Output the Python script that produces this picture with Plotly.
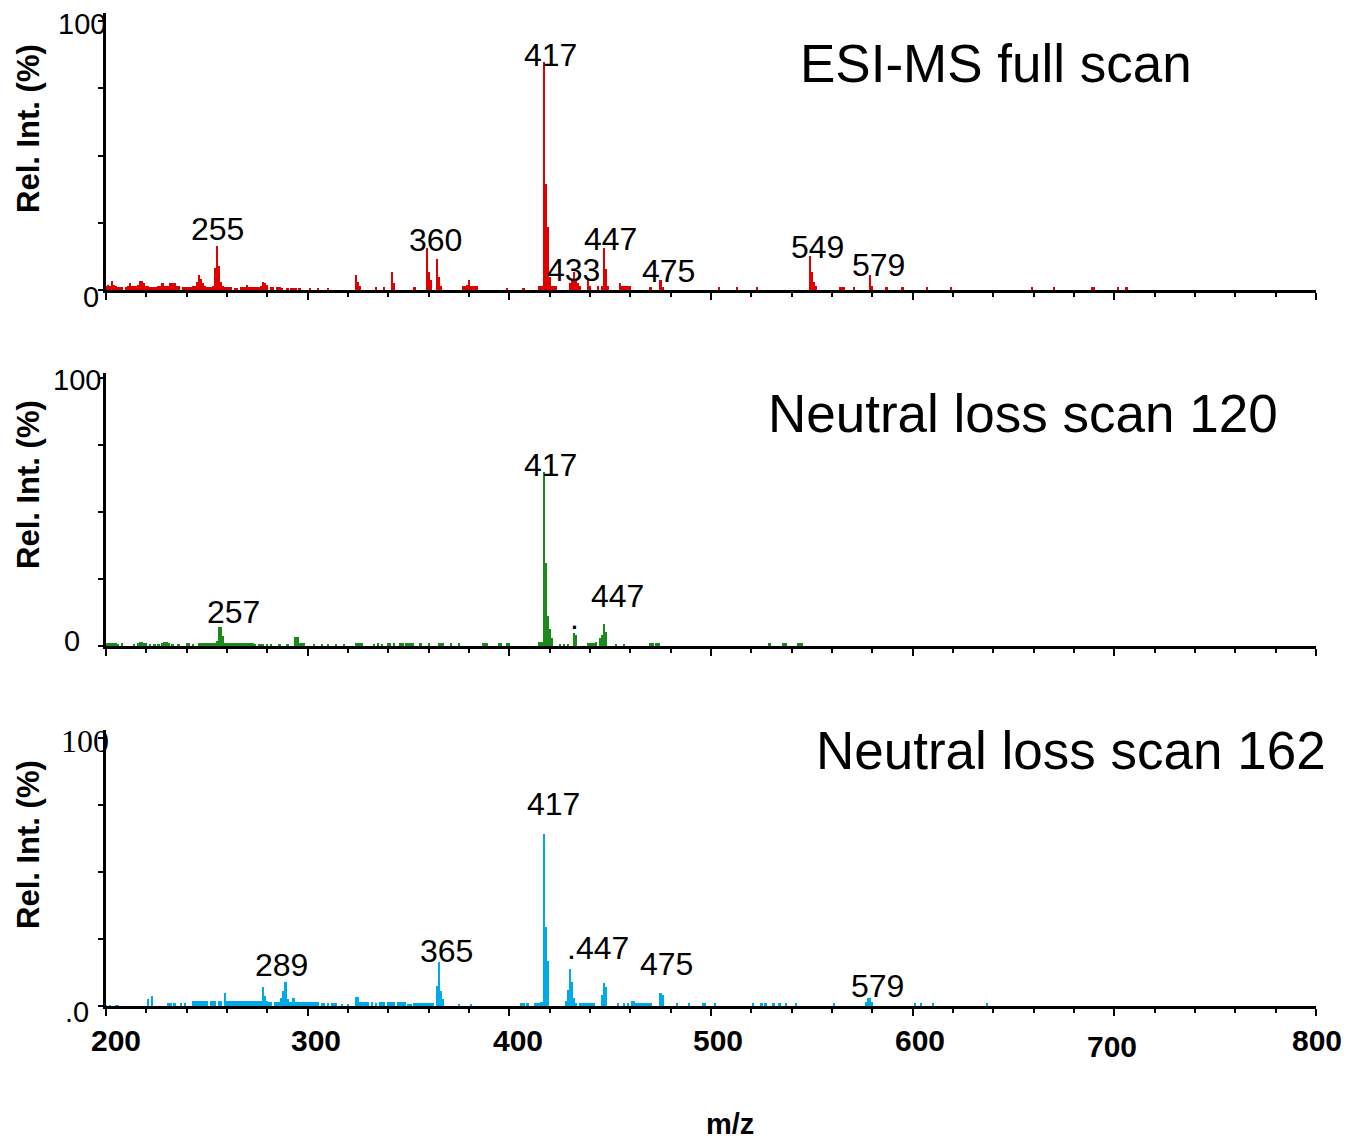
import plotly.graph_objects as go

# ---------------- data ----------------
full_mz = [200, 201, 202, 203, 204, 205, 206, 207, 208, 210, 211, 212, 213, 214, 215, 216, 217, 218, 219, 220,
           221, 222, 223, 224, 225, 226, 227, 228, 229, 230, 231, 232, 233, 234, 235, 236, 238, 239, 240, 241,
           242, 243, 244, 245, 246, 247, 248, 249, 250, 251, 252, 253, 254, 255, 256, 257, 258, 259, 260, 261,
           262, 264, 265, 267, 268, 269, 270, 271, 272, 273, 274, 275, 276, 277, 278, 279, 280, 282, 283, 285,
           286, 287, 290, 292, 293, 294, 296, 301, 305, 310, 324, 325, 326, 334, 338, 342, 343, 353, 359, 360,
           361, 364, 365, 366, 377, 378, 379, 380, 381, 382, 383, 384, 399, 407, 415, 416, 417, 418, 419, 420,
           421, 422, 423, 430, 431, 432, 433, 434, 435, 439, 440, 444, 446, 447, 448, 449, 455, 456, 457, 458,
           459, 460, 470, 475, 476, 504, 513, 523, 549, 550, 551, 552, 564, 565, 566, 571, 579, 580, 587, 595,
           607, 619, 659, 670, 689, 690, 702, 706]
full_int = [1.5, 2, 1.5, 3.5, 2, 1.5, 1, 1, 1.2, 1, 1.5, 2.5, 1.5, 1.5, 1.5, 2, 3.3, 3.3, 2.5, 1.5,
            1.5, 1.2, 1.2, 1.2, 1.2, 1.5, 1.5, 2.5, 1.5, 1.5, 1.5, 2.5, 2.5, 2.5, 1.5, 1.5, 1.2, 1.2, 1.2, 1.2,
            1.2, 1.5, 1.5, 3, 5.6, 4, 2.5, 1.5, 1.2, 1.2, 1.2, 1.5, 8, 16.5, 9, 3, 1.5, 1.2, 1.2, 1,
            1, 0.8, 0.8, 1, 1.2, 1.2, 2, 1.2, 1.2, 1.2, 1.2, 1.2, 1.2, 1.5, 3, 2.5, 2, 1.2, 1.2, 1,
            1, 0.5, 0.5, 0.8, 0.8, 0.6, 0.6, 0.8, 0.8, 0.8, 5.6, 3, 1.5, 1, 1, 6.7, 2.5, 1, 15.6, 6.8,
            3.7, 11.6, 4.8, 1.5, 1.5, 1.5, 2, 3.7, 1.5, 1.5, 1.5, 1.5, 0.8, 0.8, 1.5, 1.5, 84.6, 39.5, 23.6, 5,
            1.5, 1.5, 1.5, 2.5, 4, 6.8, 3.5, 2.5, 1.5, 4.5, 1.5, 1.5, 1.5, 15.6, 7.8, 1.5, 2.5, 1.5, 1.5, 1.5,
            1.5, 1.5, 1, 3.7, 1, 1, 1, 1, 12.7, 6.8, 3, 1.5, 1, 1, 1, 1, 5.6, 1.5, 1, 1,
            1, 1, 1, 1, 1, 1, 1, 1]

nl120_mz = [200, 201, 202, 203, 204, 205, 206, 208, 214, 216, 217, 218, 219, 220, 222, 224, 226, 228, 229, 230,
            231, 233, 236, 240, 241, 243, 246, 247, 248, 249, 250, 251, 252, 253, 254, 255, 256, 257, 258, 259,
            260, 261, 262, 263, 264, 265, 266, 267, 268, 269, 270, 271, 272, 273, 274, 276, 277, 278, 280, 282,
            286, 290, 294, 295, 296, 297, 298, 303, 307, 310, 314, 318, 324, 325, 326, 327, 333, 335, 337, 340,
            341, 343, 346, 347, 349, 350, 351, 352, 356, 360, 365, 366, 367, 371, 375, 387, 388, 389, 395, 396,
            399, 400, 415, 416, 417, 418, 419, 420, 421, 425, 427, 429, 432, 433, 439, 440, 441, 442, 443, 445,
            446, 447, 448, 453, 457, 470, 471, 473, 474, 529, 536, 537, 543, 544, 545]
nl120_int = [1, 1, 1, 1, 1, 1, 0.5, 1, 0.5, 1.2, 1.5, 1.5, 1.2, 1, 0.5, 0.5, 0.6, 1.2, 1.5, 1.5,
             1.2, 0.6, 0.5, 1, 1, 0.5, 1.2, 1.2, 1.2, 1.2, 1.2, 1.2, 1.2, 1.2, 1.2, 2, 7.2, 7.2, 3.7, 1.2,
             1.2, 1, 1, 1, 1, 1, 1, 1, 1, 1, 1, 1, 1, 1, 0.5, 0.8, 0.8, 0.8, 0.5, 0.5,
             0.8, 0.5, 3.4, 3.4, 1, 1, 1, 0.8, 0.8, 0.8, 0.8, 0.5, 1, 1, 1, 1, 0.8, 1, 0.8, 1,
             1, 1, 1, 1, 1, 1, 1, 1, 1, 1, 1, 1, 1, 1, 1, 1, 1, 1, 1, 1,
             1, 1, 1.5, 1.5, 64.8, 30.9, 11.2, 6.2, 3, 0.5, 0.8, 0.8, 5, 4, 1.2, 1.2, 1.2, 1.2, 1.5, 3,
             4, 8.2, 5.1, 0.5, 0.8, 1, 1, 1, 1, 1, 1, 1, 1, 1, 1]

nl162_mz = [200, 202, 205, 206, 221, 223, 231, 232, 234, 237, 239, 243, 244, 245, 246, 247, 248, 249, 250, 252,
            253, 254, 256, 257, 259, 260, 261, 262, 263, 264, 265, 266, 267, 268, 269, 270, 271, 272, 273, 274,
            275, 276, 277, 278, 279, 280, 281, 282, 284, 285, 286, 287, 288, 289, 290, 291, 292, 293, 294, 295,
            296, 297, 298, 299, 300, 301, 302, 303, 304, 305, 307, 308, 310, 312, 313, 314, 317, 320, 324, 325,
            326, 327, 328, 329, 330, 332, 334, 336, 337, 338, 340, 341, 342, 343, 345, 346, 347, 348, 350, 351,
            353, 354, 355, 356, 357, 358, 359, 360, 361, 362, 364, 365, 366, 367, 375, 381, 406, 407, 409, 413,
            414, 415, 416, 417, 418, 419, 428, 429, 430, 431, 432, 433, 435, 436, 437, 438, 439, 440, 441, 442,
            446, 447, 448, 454, 457, 459, 461, 462, 463, 464, 465, 466, 467, 468, 469, 470, 475, 476, 483, 489,
            496, 497, 502, 521, 525, 527, 531, 534, 537, 542, 561, 577, 578, 579, 580, 601, 604, 610, 637]
nl162_int = [0.3, 0.3, 0.3, 0.3, 2.5, 3.7, 1, 1, 1, 1, 1, 1.7, 1.7, 1.7, 1.7, 1.7, 1.7, 1.7, 1.7, 1.7,
             1.7, 1.7, 1.7, 1.7, 4.7, 1.7, 1.7, 1.7, 1.7, 1.7, 1.7, 1.7, 1.7, 1.7, 1.7, 1.7, 1.7, 1.7, 1.7, 1.7,
             1.7, 1.7, 1.7, 7.2, 3.7, 2, 1.5, 1.5, 1.5, 1.5, 1.5, 3, 5.7, 9, 2.5, 1.5, 1.5, 3, 1.5, 1.5,
             1.5, 1.5, 1.5, 1.5, 1.5, 1.5, 1.5, 1.5, 1.5, 1.5, 1.2, 1.2, 1.2, 1.2, 1.2, 1, 0.5, 0.5, 3.2, 3.2,
             1.5, 1.5, 1.5, 1.5, 1.5, 1.5, 1.2, 1.5, 1.5, 1.5, 1.5, 1.5, 1.5, 1.5, 1.5, 1.5, 1.5, 1.5, 0.5, 0.5,
             1.2, 1.2, 1.2, 1.2, 1.2, 1.2, 1.2, 1.2, 1.2, 1.2, 7.5, 16.5, 5.5, 2.5, 0.5, 0.5, 1, 1, 1, 1,
             1, 1, 1.5, 64, 29.6, 16.8, 2, 6, 13.8, 8.8, 2.9, 1.2, 1.2, 1.2, 1.2, 1.2, 1.2, 1.2, 1.2, 1.2,
             4.1, 8.7, 7, 1, 1, 1, 2, 2, 1.2, 1.2, 1.2, 1.2, 1.2, 1.2, 1.2, 1.2, 5, 4, 1, 1,
             1, 1, 1, 1, 1, 1, 1, 1, 1, 1, 1, 1.6, 2.9, 2.9, 1.6, 1, 1, 1, 1]

# peak labels: (text, label-centre m/z, label-centre intensity)
full_labels = [("255", 255.5, 22.7), ("360", 363.6, 18.6), ("417", 420.2, 87.4), ("433", 431.6, 7.4),
               ("447", 450.4, 19.0), ("475", 478.7, 7.1), ("549", 552.6, 16.0), ("579", 583.3, 9.3)]
nl120_labels = [("257", 263.0, 12.7), ("417", 420.2, 67.5), ("447", 453.4, 18.7), (".", 432.5, 10.4)]
nl162_labels = [("289", 286.8, 15.3), ("365", 368.6, 20.5), ("417", 421.7, 75.4), (".447", 444.0, 21.6),
                ("475", 477.7, 15.7), ("579", 582.8, 7.5)]

panel_titles = ["ESI-MS full scan", "Neutral loss scan 120", "Neutral loss scan 162"]
y_title = "Rel. Int. (%)"
x_title = "m/z"
x_tick_vals = [200, 300, 400, 500, 600, 700, 800]
y_tick_vals = [0, 25, 50, 75, 100]

# ---------------- layout helpers ----------------
W, H = 1350, 1140
OFF = 8  # page body margin
FONT = "Arial, Liberation Sans, sans-serif"
def px(x):
    return (x - OFF) / W
def py(y):
    return 1 - (y - OFF) / H

colors = ["#e10000", "#1a8a1a", "#00a9e8"]
series = [(full_mz, full_int), (nl120_mz, nl120_int), (nl162_mz, nl162_int)]
labels = [full_labels, nl120_labels, nl162_labels]
# (baseline px, top px, px per unit)
geom = [(290, 13, 2.69), (646, 373, 2.68), (1006, 730, 2.68)]
xdom = [px(106), px(1316)]

fig = go.Figure()
ann = []
for i in range(3):
    n = "" if i == 0 else str(i + 1)
    fig.add_trace(go.Bar(x=series[i][0], y=series[i][1], width=1.1,
                         marker=dict(color=colors[i], line=dict(width=0)),
                         xaxis="x" + n, yaxis="y" + n, showlegend=False))
    base, top, k = geom[i]
    fig.update_layout(**{
        "xaxis" + n: dict(domain=xdom, range=[200, 800], anchor="y" + n, showline=True,
                          linecolor="black", linewidth=2.5, ticks="outside", tickwidth=2,
                          ticklen=7, tickcolor="black", dtick=100, tick0=200,
                          showticklabels=False, showgrid=False, zeroline=False,
                          minor=dict(dtick=20, tick0=200, ticks="outside", ticklen=4,
                                     tickwidth=1.5, tickcolor="black", showgrid=False)),
        "yaxis" + n: dict(domain=[py(base), py(top)], range=[0, (base - top) / k],
                          anchor="x" + n, showline=True, linecolor="black", linewidth=2.5,
                          ticks="outside", tickvals=y_tick_vals, ticklen=5, tickwidth=2,
                          tickcolor="black", showticklabels=False, showgrid=False,
                          zeroline=False),
    })
    for (t, xm, yv) in labels[i]:
        ann.append(dict(text=t, x=xm, y=yv, xref="x" + n, yref="y" + n, showarrow=False,
                        xanchor="center", yanchor="middle",
                        font=dict(family=FONT, size=32, color="black")))

# panel titles
title_pos = [(996, 63, 53), (1023, 413, 53), (1071, 750, 53)]
for t, (x, y, s) in zip(panel_titles, title_pos):
    ann.append(dict(text=t, x=px(x), y=py(y), xref="paper", yref="paper", showarrow=False,
                    xanchor="center", yanchor="middle", font=dict(family=FONT, size=s, color="black")))

# y titles
for y in [129, 485, 845]:
    ann.append(dict(text="<b>" + y_title + "</b>", x=px(28), y=py(y), xref="paper", yref="paper",
                    showarrow=False, textangle=-90, xanchor="center", yanchor="middle",
                    font=dict(family=FONT, size=31, color="black")))

# y tick labels (100 / 0)
ytl = [("100", "y", 100, 108, -3, FONT, 29), ("0", "y", 0, 101, -7, FONT, 29),
       ("100", "y2", 100, 103, -2, FONT, 29), ("0", "y2", 0, 82, 5, FONT, 29),
       ("100", "y3", 100, 111, -3, "Liberation Serif, Times New Roman, serif", 32),
       (".0", "y3", 0, 91, -6, FONT, 29)]
for t, yr, yv, xr, ys, f, s in ytl:
    ann.append(dict(text=t, x=px(xr), y=yv, xref="paper", yref=yr, showarrow=False,
                    xanchor="right", yanchor="middle", yshift=ys,
                    font=dict(family=f, size=s, color="black")))

# x tick labels (bottom panel)
x_label_shift = [10, 8, 9, 7, 7, -2, 1]
x_label_y = [1040, 1040, 1040, 1040, 1040, 1046, 1040]
for v, dx, y in zip(x_tick_vals, x_label_shift, x_label_y):
    ann.append(dict(text="<b>%d</b>" % v, x=v, y=py(y), xref="x3", yref="paper", xshift=dx,
                    showarrow=False, xanchor="center", yanchor="middle",
                    font=dict(family=FONT, size=30, color="black")))
ann.append(dict(text="<b>" + x_title + "</b>", x=px(730), y=py(1124), xref="paper", yref="paper",
                showarrow=False, xanchor="center", yanchor="middle",
                font=dict(family=FONT, size=29, color="black")))

fig.update_layout(width=W, height=H, autosize=False, margin=dict(l=0, r=0, t=0, b=0, pad=0),
                  plot_bgcolor="white", paper_bgcolor="white", annotations=ann,
                  bargap=0, showlegend=False)
fig.write_html("out.html")
